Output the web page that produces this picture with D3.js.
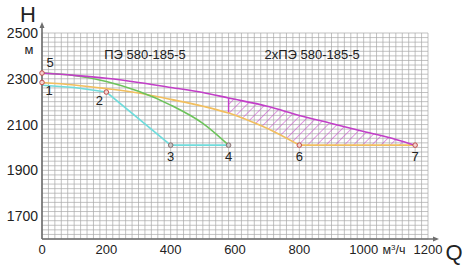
<!DOCTYPE html>
<html>
<head>
<meta charset="utf-8">
<script src="https://cdn.jsdelivr.net/npm/d3@7"></script>
<style>
  body { margin: 0; background: #fff; }
  text { font-family: Arial, "Liberation Sans", sans-serif; fill: #222; }
  .grid line { stroke: #a8a8a8; stroke-width: 0.7; }
  .curve { fill: none; stroke-width: 1.6; }
</style>
</head>
<body>
<div id="chart"></div>
<script>
// Q, м3/ч  and  H, м
var xTicks = [0, 200, 400, 600, 800, 1000, 1200];
var yTicks = [1700, 1900, 2100, 2300, 2500];

var magentaQ = [0, 100, 200, 300, 400, 500, 580, 700, 800, 900, 1000, 1100, 1160];
var magentaH = [2325, 2315, 2302, 2284, 2262, 2240, 2216, 2180, 2140, 2105, 2070, 2035, 2010];

var greenQ = [0, 100, 200, 300, 400, 500, 580];
var greenH = [2325, 2314, 2288, 2245, 2185, 2105, 2010];

var orangeQ = [0, 100, 200, 300, 400, 500, 580, 650, 720, 800, 1160];
var orangeH = [2284, 2273, 2257, 2238, 2210, 2180, 2150, 2113, 2070, 2010, 2010];

var cyanQ = [0, 100, 200, 400, 580];
var cyanH = [2272, 2262, 2242, 2010, 2010];

var pointNames = ["5", "1", "2", "3", "4", "6", "7"];
var pointQ = [0, 0, 200, 400, 580, 800, 1160];
var pointH = [2325, 2284, 2242, 2010, 2010, 2010, 2010];

var margin = {top: 33, right: 40, bottom: 29, left: 42},
    width = 468 - margin.left - margin.right,
    height = 268 - margin.top - margin.bottom;

var x = d3.scaleLinear().domain([0, 1200]).range([0, width]);
var y = d3.scaleLinear().domain([1600, 2500]).range([height, 0]);

function zip(qs, hs) { return qs.map(function(q, i) { return {q: q, h: hs[i]}; }); }

var line = d3.line().x(function(d){ return x(d.q); }).y(function(d){ return y(d.h); }).curve(d3.curveMonotoneX);
var straight = d3.line().x(function(d){ return x(d.q); }).y(function(d){ return y(d.h); });

var svg = d3.select("#chart").append("svg").attr("width", 468).attr("height", 268);

var defs = svg.append("defs");
var pat = defs.append("pattern").attr("id", "hatch").attr("patternUnits", "userSpaceOnUse")
    .attr("width", 6.5).attr("height", 6.5).attr("patternTransform", "rotate(45)");
pat.append("line").attr("x1", 0).attr("y1", 0).attr("x2", 0).attr("y2", 6.5)
    .attr("stroke", "#c23fc8").attr("stroke-width", 1);

var g = svg.append("g").attr("transform", "translate(" + margin.left + "," + margin.top + ")");

// grid every 20 units
var grid = g.append("g").attr("class", "grid");
grid.selectAll(".v").data(d3.range(0, 1201, 20)).enter().append("line")
    .attr("x1", function(d){ return x(d); }).attr("x2", function(d){ return x(d); })
    .attr("y1", 0).attr("y2", height);
grid.selectAll(".h").data(d3.range(1600, 2501, 20)).enter().append("line")
    .attr("x1", 0).attr("x2", width)
    .attr("y1", function(d){ return y(d); }).attr("y2", function(d){ return y(d); });

// hatched zone between the two-pump curve and the orange curve, Q 580..1160
var mag = zip(magentaQ, magentaH), ora = zip(orangeQ, orangeH);
var upper = mag.filter(function(d){ return d.q >= 580; });
var lower = ora.filter(function(d){ return d.q >= 580; }).reverse();
g.append("path").datum(upper.concat(lower)).attr("d", straight)
    .attr("fill", "url(#hatch)").attr("stroke", "none");
g.append("line").attr("x1", x(580)).attr("x2", x(580))
    .attr("y1", y(2216)).attr("y2", y(2150)).attr("stroke", "#c23fc8").attr("stroke-width", 1.4);

g.append("path").datum(zip(cyanQ, cyanH)).attr("class", "curve").attr("d", straight).attr("stroke", "#6fdcdc");
g.append("path").datum(ora.slice(0, 10)).attr("class", "curve").attr("d", line).attr("stroke", "#f2bf5e");
g.append("path").datum(ora.slice(9)).attr("class", "curve").attr("d", straight).attr("stroke", "#f2bf5e");
g.append("path").datum(zip(greenQ, greenH)).attr("class", "curve").attr("d", line).attr("stroke", "#6cc35a");
g.append("path").datum(mag).attr("class", "curve").attr("d", line).attr("stroke", "#c23fc8");

// axes
var axisColor = "#6e6e6e";
g.append("line").attr("x1", 0).attr("x2", 0).attr("y1", height).attr("y2", -7)
    .attr("stroke", axisColor).attr("stroke-width", 1.6);
g.append("path").attr("d", "M-2.5,-5L0,-11L2.5,-5Z").attr("fill", axisColor);
g.append("line").attr("x1", 0).attr("x2", width + 7).attr("y1", height).attr("y2", height)
    .attr("stroke", axisColor).attr("stroke-width", 1.6);
g.append("path").attr("d", "M" + (width + 5) + "," + (height - 2.5) + "L" + (width + 11) + "," + height + "L" + (width + 5) + "," + (height + 2.5) + "Z").attr("fill", axisColor);

g.selectAll(".ytick").data(yTicks).enter().append("text")
    .attr("x", -4).attr("y", function(d){ return y(d) + 5; })
    .attr("text-anchor", "end").style("font-size", "14px").text(function(d){ return d; });
g.selectAll(".xtick").data(xTicks).enter().append("text")
    .attr("x", function(d){ return x(d); }).attr("y", height + 14.5)
    .attr("text-anchor", "middle").style("font-size", "13px").text(function(d){ return d; });

svg.append("text").attr("x", 28).attr("y", 22).attr("text-anchor", "middle").style("font-size", "22px").text("H");
svg.append("text").attr("x", 29).attr("y", 54).attr("text-anchor", "middle").style("font-size", "13px").text("м");
svg.append("text").attr("x", 454).attr("y", 260).attr("text-anchor", "middle").style("font-size", "22px").text("Q");
svg.append("text").attr("x", 394).attr("y", 254).attr("text-anchor", "middle").style("font-size", "12.5px")
    .html('м<tspan dy="-4" style="font-size:8px">3</tspan><tspan dy="4">/ч</tspan>');

g.append("text").attr("x", x(320)).attr("y", 26).attr("text-anchor", "middle").style("font-size", "13px").text("ПЭ 580-185-5");
g.append("text").attr("x", x(840)).attr("y", 26).attr("text-anchor", "middle").style("font-size", "13px").text("2хПЭ 580-185-5");

// points and their numbers
var pts = pointNames.map(function(n, i){ return {n: n, q: pointQ[i], h: pointH[i]}; });
g.selectAll(".pt").data(pts).enter().append("circle")
    .attr("cx", function(d){ return x(d.q); }).attr("cy", function(d){ return y(d.h); }).attr("r", 2.3)
    .attr("fill", function(d){ return (d.n == "3" || d.n == "4") ? "#c8c8c8" : "#f3d2cf"; })
    .attr("stroke", function(d){ return (d.n == "3" || d.n == "4") ? "#8a7070" : "#c0504d"; })
    .attr("stroke-width", 1);

var labelOffset = {"5": [8, -6], "1": [7, 13], "2": [-7, 13], "3": [0, 16], "4": [0, 16], "6": [0, 16], "7": [0, 16]};
g.selectAll(".pl").data(pts).enter().append("text")
    .attr("x", function(d){ return x(d.q) + labelOffset[d.n][0]; })
    .attr("y", function(d){ return y(d.h) + labelOffset[d.n][1]; })
    .attr("text-anchor", "middle").style("font-size", "13px").text(function(d){ return d.n; });
</script>
</body>
</html>
